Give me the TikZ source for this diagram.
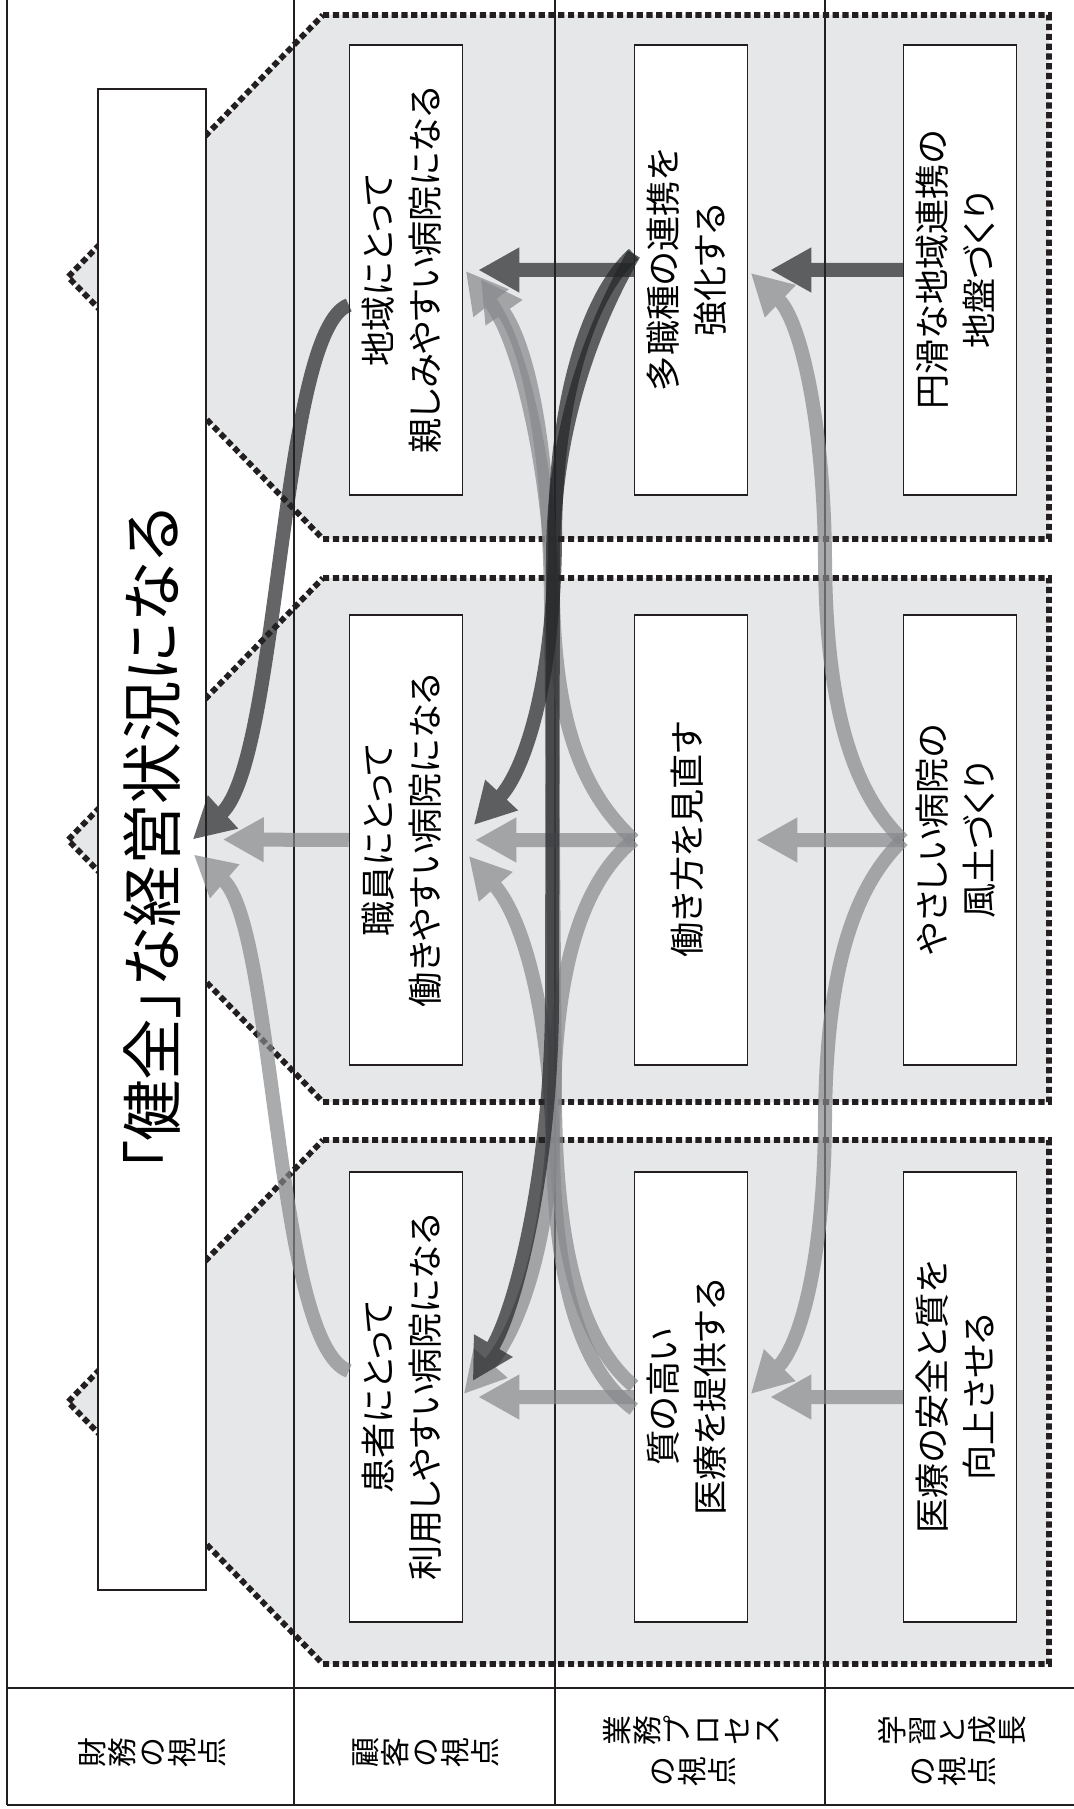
\documentclass[tikz,border=0pt]{standalone}
\usepackage{fontspec}
\usepackage{graphicx}
\newfontfamily\jp{Noto Sans CJK JP}[RawFeature=+palt]
\newfontfamily\jpv{Noto Sans CJK JP}
\usetikzlibrary{arrows.meta}
\definecolor{linec}{HTML}{231F20}
\definecolor{panel}{HTML}{E6E7E8}
\definecolor{darkar}{RGB}{36,37,39}
\definecolor{greyar}{RGB}{134,136,139}
\newcommand\rc[1]{\rotatebox[origin=c]{90}{\raisebox{0pt}[0.88em][0.12em]{\makebox[1em]{#1}}}}
\newcommand\cardtext[1]{\rotatebox{90}{\begin{tabular}{@{}c@{}}#1\end{tabular}}}
\newcommand\linkarrow[2]{\begin{scope}[transparency group,opacity=0.7]\draw[#1] #2;\end{scope}}
\tikzset{
  tline/.style={draw=linec, line width=0.24mm},
  panelshape/.style={fill=panel, draw=linec, line width=0.58mm, dash pattern=on 0.62mm off 0.36mm},
  card/.style={draw=linec, fill=white, line width=0.15mm, minimum width=11.3mm, minimum height=45mm, inner sep=0pt, font=\jp\fontsize{10pt}{13.3pt}\selectfont},
  titlebox/.style={draw=linec, fill=white, line width=0.15mm, minimum width=10.8mm, minimum height=150.1mm, inner sep=0pt, font=\jp\fontsize{17.5pt}{21pt}\selectfont},
  lab/.style={font=\jpv\fontsize{8.5pt}{11.7pt}\selectfont, align=center, inner sep=0pt},
  darklink/.style={draw=darkar, line width=1.4mm, -{Triangle[length=4.1mm,width=4.2mm]}},
  greylink/.style={draw=greyar, line width=1.4mm, -{Triangle[length=4.1mm,width=4.2mm]}},
}
\begin{document}
\begin{tikzpicture}[x=0.1mm, y=-0.1mm]
\useasboundingbox (0,0) rectangle (1074,1809);
\fill[white] (0,0) rectangle (1074,1809);
% panels
\foreach \t/\c/\b in {15/277/539, 578/840/1102, 1140/1402/1664}{
  \draw[panelshape] (323,\t) -- (1049,\t) -- (1049,\b) -- (323,\b) -- (68,\c) -- cycle;
}
% table lines
\foreach \x in {7,294,555,825}{ \draw[tline] (\x,0) -- (\x,1805); }
\draw[tline] (7,1688) -- (1074,1688);
\draw[tline] (7,1805) -- (1074,1805);
% boxes
\node[titlebox] (T) at (152,839.5) {\rotatebox{90}{「健全」な経営状況になる}};
\node[card] (C1) at (406,270) {\cardtext{地域にとって\\親しみやすい病院になる}};
\node[card] (C2) at (406,840) {\cardtext{職員にとって\\働きやすい病院になる}};
\node[card] (C3) at (406,1397) {\cardtext{患者にとって\\利用しやすい病院になる}};
\node[card] (P1) at (691,270) {\cardtext{多職種の連携を\\強化する}};
\node[card] (P2) at (691,840) {\cardtext{働き方を見直す}};
\node[card] (P3) at (691,1397) {\cardtext{質の高い\\医療を提供する}};
\node[card] (L1) at (960,270) {\cardtext{円滑な地域連携の\\地盤づくり}};
\node[card] (L2) at (960,840) {\cardtext{やさしい病院の\\風土づくり}};
\node[card] (L3) at (960,1397) {\cardtext{医療の安全と質を\\向上させる}};
% labels
\node[lab] (LF) at (152,1753) {\rc{財}\rc{務}\rc{の}\rc{視}\rc{点}};
\node[lab] (LC) at (425,1753) {\rc{顧}\rc{客}\rc{の}\rc{視}\rc{点}};
\node[lab] (LP) at (692,1751) {\rc{業}\rc{務}\rc{プ}\rc{ロ}\rc{セ}\rc{ス}\\\rc{の}\rc{視}\rc{点}};
\node[lab] (LL) at (952,1751) {\rc{学}\rc{習}\rc{と}\rc{成}\rc{長}\\\rc{の}\rc{視}\rc{点}};
% grey links
\linkarrow{greylink}{(L2.west) -- ([xshift=0.8mm]P2.east)}
\linkarrow{greylink}{(L3.west) -- ([xshift=2.2mm]P3.east)}
\linkarrow{greylink}{(P2.west) -- ([xshift=1.2mm]C2.east)}
\linkarrow{greylink}{(P3.west) -- ([xshift=1.5mm]C3.east)}
\linkarrow{greylink}{(C2.west) -- ([xshift=1.6mm]T.east)}
\linkarrow{greylink}{(L2.west) .. controls (850,790) and (826,700) .. (825,560) .. controls (824,420) and (800,320) .. ([xshift=0.25mm,yshift=-0.3mm]P1.east)}
\linkarrow{greylink}{(L2.west) .. controls (850,890) and (826,980) .. (825,1120) .. controls (824,1260) and (800,1345) .. ([xshift=0.25mm,yshift=0.3mm]P3.east)}
\linkarrow{greylink}{(P2.west) .. controls (580,790) and (556,720) .. (553,600) .. controls (550,470) and (520,340) .. ([xshift=0.25mm,yshift=-0.1mm]C1.east)}
\linkarrow{greylink}{(P2.west) .. controls (585,880) and (556,960) .. (554,1100) .. controls (552,1250) and (515,1335) .. ([xshift=0.05mm,yshift=0.3mm]C3.east)}
\linkarrow{greylink}{([yshift=1.1mm]P3.west) .. controls (585,1345) and (556,1260) .. (555,1100) -- (551,600) .. controls (549,450) and (530,350) .. ([xshift=1.75mm,yshift=-0.9mm]C1.east)}
\linkarrow{greylink}{([yshift=-1.2mm]P3.west) .. controls (580,1370) and (555,1280) .. (553,1150) .. controls (550,1020) and (525,920) .. ([xshift=0.55mm,yshift=-1.6mm]C2.east)}
\linkarrow{greylink}{([yshift=2.6mm]C3.west) .. controls (275,1345) and (275,925) .. ([xshift=-1.3mm,yshift=-1.5mm]T.east)}
% dark links
\linkarrow{darklink}{(L1.west) -- ([xshift=2.2mm]P1.east)}
\linkarrow{darklink}{(P1.west) -- ([xshift=1.5mm]C1.east)}
\linkarrow{darklink}{([yshift=-3.5mm]C1.west) .. controls (280,330) and (280,760) .. ([xshift=-1.4mm]T.east)}
\linkarrow{darklink}{([yshift=1.6mm]P1.west) .. controls (588,295) and (555,400) .. (555,540) .. controls (554,680) and (525,770) .. ([xshift=1.05mm,yshift=1.5mm]C2.east)}
\linkarrow{darklink}{([yshift=1.6mm]P1.west) .. controls (605,305) and (553,410) .. (553,560) -- (552,1000) .. controls (552,1150) and (520,1300) .. ([xshift=0.95mm,yshift=1.6mm]C3.east)}
\end{tikzpicture}
\end{document}
